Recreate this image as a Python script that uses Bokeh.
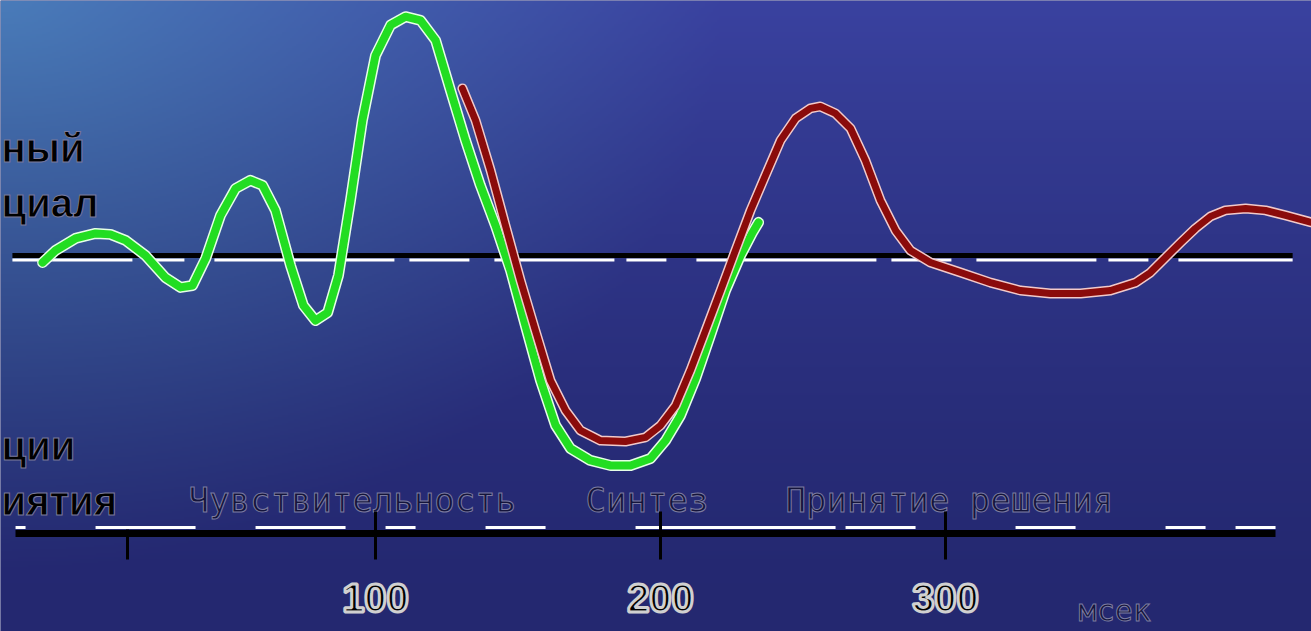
import numpy as np
from bokeh.plotting import figure
from bokeh.models import FixedTicker
from bokeh.core.properties import value
from bokeh.embed import file_html
from bokeh.resources import INLINE

# ---------------- data (time in ms, amplitude in µV) ----------------
green_t = [-16.8, -12.3, -5.3, 1.8, 7.0, 12.3, 19.3, 26.3, 31.6, 35.8, 40.4, 45.6, 50.9, 56.1,
           60.4, 64.9, 70.2, 74.7, 78.9, 83.2, 87.0, 91.2, 95.4, 100.0, 105.3, 110.5, 115.8,
           121.1, 126.3, 131.6, 136.8, 142.1, 147.4, 152.6, 157.9, 163.2, 168.4, 175.4, 182.5,
           189.5, 196.5, 201.8, 207.0, 212.3, 217.5, 222.8, 228.1, 232.3, 234.4]
green_v = [-0.29, 0.21, 0.71, 0.92, 0.88, 0.63, 0.0, -0.92, -1.33, -1.25, -0.13, 1.67, 2.79, 3.13,
           2.92, 1.88, -0.42, -2.08, -2.71, -2.38, -0.83, 2.29, 5.63, 8.33, 9.6, 9.95, 9.8,
           8.96, 6.88, 4.79, 2.92, 1.25, -0.63, -2.92, -5.21, -7.08, -8.04, -8.54, -8.75,
           -8.75, -8.46, -7.71, -6.67, -5.13, -3.33, -1.46, 0.0, 0.96, 1.38]

red_t = [130.5, 135.1, 140.4, 145.6, 150.9, 156.1, 161.4, 166.7, 171.9, 178.9, 187.7, 194.7,
         200.0, 205.3, 210.5, 215.8, 221.1, 226.3, 231.6, 236.8, 242.1, 247.4, 252.6, 256.1,
         261.4, 266.7, 271.9, 277.2, 282.5, 287.7, 294.7, 305.3, 315.8, 326.3, 336.8, 347.4,
         357.9, 366.7, 371.9, 377.2, 382.5, 387.7, 393.0, 398.2, 405.3, 412.3, 419.3, 428.4]
red_v = [6.96, 5.63, 3.54, 1.25, -1.04, -3.13, -5.21, -6.46, -7.29, -7.71, -7.75, -7.58,
         -7.08, -6.25, -4.79, -3.13, -1.46, 0.21, 1.88, 3.33, 4.79, 5.71, 6.13, 6.21,
         5.92, 5.29, 3.96, 2.29, 1.04, 0.21, -0.29, -0.71, -1.13, -1.46, -1.58, -1.58,
         -1.46, -1.13, -0.71, -0.08, 0.54, 1.13, 1.63, 1.88, 1.96, 1.88, 1.67, 1.38]

tick_values = [100, 200, 300]
stimulus_t = [13]

phase_labels = ["Чувствительность", "Синтез", "Принятие решения"]
phase_x = [34.4, 173.7, 243.9]
phase_y = [-10.17, -10.17, -10.17]

side_labels = ["ный", "циал", "ции", "иятия"]
side_x = [-31.2, -31.2, -31.2, -31.2]
side_y = [4.46, 2.17, -7.92, -10.21]

unit_label = ["мсек"]
unit_x = [346.7]
unit_y = [-14.8]

# ---------------- layout constants ----------------
W, H = 1311, 631
X0, X1 = -31.58, 428.42
Y0, Y1 = -15.667, 10.625
AXIS_Y = -11.583
AXIS_BOUNDS = (-26.3, 415.8)
BASE_X = (-27.4, 421.8)

p = figure(width=W, height=H, x_range=(X0, X1), y_range=(Y0, Y1),
           output_backend="svg", toolbar_location=None, min_border=0,
           y_axis_location=None)
p.grid.visible = False
p.outline_line_color = None
p.background_fill_color = "#24286e"
p.border_fill_color = "#24286e"

# ---------------- background gradient (ocean-like blue) ----------------
rows, cols = 316, 656
jj = (np.arange(cols) + 0.5) / cols
ii = (np.arange(rows) + 0.5) / rows
U, V = np.meshgrid(jj, 1.0 - ii)
dark = np.array([36, 40, 112], dtype=float)
top_boost = np.array([22, 26, 48], dtype=float)
light_boost = np.array([16, 58, 26], dtype=float)
b = np.clip(1 - V, 0, 1) ** 1.5
w = np.clip(1 - np.sqrt((U / 0.55) ** 2 + (V / 0.9) ** 2), 0, 1)
rgb = dark[None, None, :] + b[..., None] * top_boost[None, None, :] + w[..., None] * light_boost[None, None, :]
img = np.empty((rows, cols, 4), dtype=np.uint8)
img[..., :3] = np.clip(rgb, 0, 255).astype(np.uint8)
img[..., 3] = 255
img32 = img.view(dtype=np.uint32).reshape((rows, cols))
p.image_rgba(image=[img32], x=X0, y=Y0, dw=X1 - X0, dh=Y1 - Y0)

# ---------------- baseline ----------------
p.segment(x0=[BASE_X[0]], y0=[-0.19], x1=[BASE_X[1]], y1=[-0.19], line_color="white",
          line_width=3, line_dash="120 12 40 30 180 15 60 25")
p.segment(x0=[BASE_X[0]], y0=[0], x1=[BASE_X[1]], y1=[0], line_color="black", line_width=5)

# white highlight just above time axis
p.segment(x0=[AXIS_BOUNDS[0]], y0=[-11.33], x1=[AXIS_BOUNDS[1]], y1=[-11.33], line_color="white",
          line_width=3, line_dash="10 70 100 60 90 40 30 70 60 90 200")

# ---------------- curves ----------------
p.line(green_t, green_v, line_color="#e6ffe6", line_width=11, line_join="round", line_cap="round")
p.line(green_t, green_v, line_color="#22dd22", line_width=8, line_join="round", line_cap="round")
p.line(red_t, red_v, line_color="#f2caca", line_width=10, line_join="round", line_cap="round")
p.line(red_t, red_v, line_color="#8a0b0b", line_width=7, line_join="round", line_cap="round")

# ---------------- texts ----------------
p.text(x=phase_x, y=phase_y, text=phase_labels, text_font=value("DejaVu Sans Mono"),
       text_font_size="34px", text_color="#14143a", text_outline_color="#7c7ca0",
       text_align="left", text_baseline="alphabetic")
p.text(x=side_x, y=side_y, text=side_labels, text_font=value("Liberation Sans"),
       text_font_size="40px", text_font_style="bold", text_color="black",
       text_outline_color="#7a7a9a", text_align="left", text_baseline="alphabetic")
p.text(x=unit_x, y=unit_y, text=unit_label, text_font=value("DejaVu Sans Mono"),
       text_font_size="30px", text_color="#14143a", text_outline_color="#7c7ca0",
       text_align="left", text_baseline="alphabetic")

# ---------------- time axis ----------------
ax = p.xaxis[0]
ax.fixed_location = AXIS_Y
ax.bounds = AXIS_BOUNDS
ax.ticker = FixedTicker(ticks=tick_values, minor_ticks=stimulus_t)
ax.axis_line_width = 7
ax.axis_line_color = "black"
ax.major_tick_line_width = 3
ax.major_tick_line_color = "black"
ax.major_tick_in = 22
ax.major_tick_out = 26
ax.minor_tick_line_width = 3
ax.minor_tick_line_color = "black"
ax.minor_tick_in = 4
ax.minor_tick_out = 26
ax.major_label_text_font = "Liberation Sans"
ax.major_label_text_font_style = "bold"
ax.major_label_text_font_size = "40px"
ax.major_label_text_color = "black"
ax.major_label_text_outline_color = "#d0d0d0"
ax.major_label_standoff = 25

open("out.html", "w").write(file_html(p, INLINE))
